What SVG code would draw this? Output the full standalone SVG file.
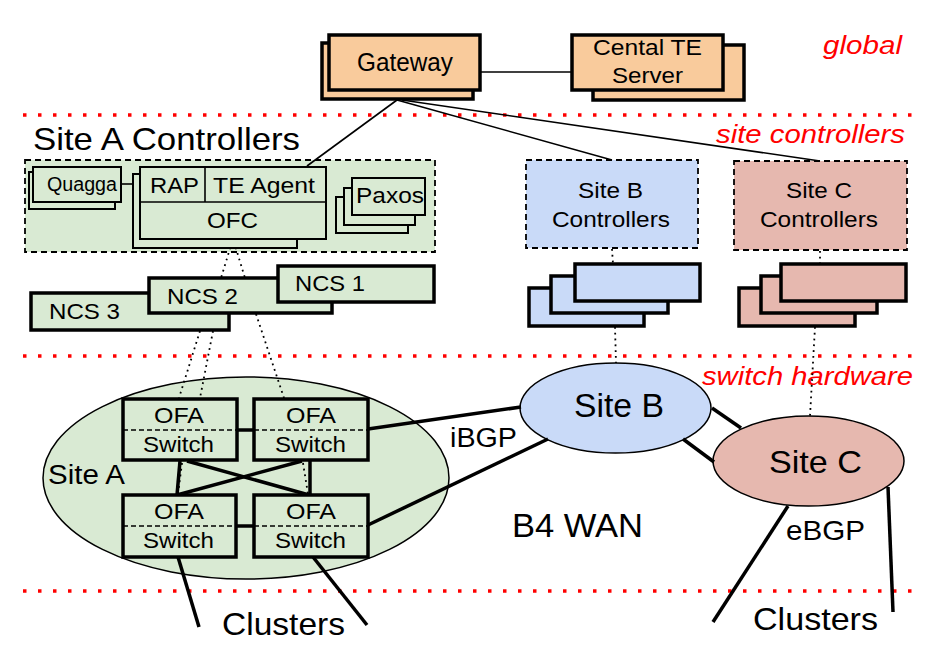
<svg xmlns="http://www.w3.org/2000/svg" width="940" height="666" viewBox="0 0 940 666">
<style>
text{font-family:"Liberation Sans",Arial,sans-serif;fill:#000}
.red{fill:#ff0000;font-style:italic;font-size:25px}
.sep{stroke:#ff0000;stroke-width:3.5;stroke-dasharray:3.5 11.5;fill:none}
.org{fill:#f9cb9c;stroke:#000;stroke-width:3.5}
.grn{fill:#d9ead3;stroke:#000;stroke-width:2}
.grnT{fill:#d9ead3;stroke:#000;stroke-width:3.5}
.blu{fill:#c9daf8;stroke:#000;stroke-width:3.5}
.pnk{fill:#e6b8af;stroke:#000;stroke-width:3.5}
.dash{stroke:#000;stroke-width:1.8;stroke-dasharray:6 4}
.ln{stroke:#000;stroke-width:1.6;fill:none}
.thk{stroke:#000;stroke-width:3.5;fill:none}
.dot{stroke:#000;stroke-width:1.8;stroke-dasharray:1.8 4;fill:none}
.mid{stroke:#000;stroke-width:1.5;stroke-dasharray:5 3;fill:none}
.ell{stroke:#000;stroke-width:1.5}
</style>
<rect width="940" height="666" fill="#fff"/>
<g id="layers">
<line class="sep" x1="23" y1="115" x2="917" y2="115"/>
<line class="sep" x1="23" y1="356" x2="917" y2="356"/>
<line class="sep" x1="23" y1="591" x2="917" y2="591"/>
<text class="red" x="823" y="54" textLength="79" lengthAdjust="spacingAndGlyphs">global</text>
<text class="red" x="716" y="143" textLength="189" lengthAdjust="spacingAndGlyphs">site controllers</text>
<text class="red" x="702" y="385" textLength="211" lengthAdjust="spacingAndGlyphs">switch hardware</text>
<text x="33" y="150" font-size="30.5" textLength="267" lengthAdjust="spacingAndGlyphs">Site A Controllers</text>
</g>
<g id="site-a-controllers">
<rect x="25" y="160" width="410" height="92" fill="#d9ead3" class="dash"/>
</g>
<g id="site-b-controllers">
<rect x="526" y="160" width="172" height="88" fill="#c9daf8" class="dash"/>
<text x="578" y="198" font-size="22.5" textLength="65" lengthAdjust="spacingAndGlyphs">Site B</text>
<text x="552" y="227" font-size="22.5" textLength="118" lengthAdjust="spacingAndGlyphs">Controllers</text>
</g>
<g id="site-c-controllers">
<rect x="734" y="161" width="173" height="89" fill="#e6b8af" class="dash"/>
<text x="786" y="198" font-size="22.5" textLength="66" lengthAdjust="spacingAndGlyphs">Site C</text>
<text x="760" y="227" font-size="22.5" textLength="118" lengthAdjust="spacingAndGlyphs">Controllers</text>
</g>
<g id="site-a">
<ellipse class="ell" cx="246" cy="478" rx="203" ry="101" fill="#d9ead3"/>
<text x="48" y="484" font-size="27" textLength="77" lengthAdjust="spacingAndGlyphs">Site A</text>
</g>
<g id="site-b">
<ellipse class="ell" cx="615.5" cy="408" rx="95.5" ry="45" fill="#c9daf8"/>
<text x="574" y="417" font-size="33" textLength="90" lengthAdjust="spacingAndGlyphs">Site B</text>
</g>
<g id="site-c">
<ellipse class="ell" cx="808.5" cy="461" rx="95.5" ry="45" fill="#e6b8af"/>
<text x="769" y="473" font-size="32" textLength="93" lengthAdjust="spacingAndGlyphs">Site C</text>
</g>
<g id="connectors">
<line class="ln" x1="480" y1="72" x2="572" y2="72"/>
<line class="ln" x1="397" y1="100" x2="307" y2="166"/>
<line class="ln" x1="397" y1="100" x2="612" y2="160"/>
<line class="ln" x1="402" y1="100" x2="820" y2="161"/>
<line class="ln" x1="121" y1="184" x2="133" y2="184"/>
<path class="dot" d="M232 242 L221 278 M234 242 L245 278 M200 331 L179 398 M213 331 L200 398 M256 314 L284 398 M182 463 L178 494 M303 463 L308 494"/>
<path class="dot" d="M612 249 L613 264 M615 327 L616 363 M820 251 L820 264 M815 327 L810 416"/>
<line class="thk" x1="237" y1="430" x2="254" y2="430"/>
<line class="thk" x1="237" y1="526" x2="254" y2="526"/>
<line class="thk" x1="180" y1="461" x2="177" y2="495"/>
<line class="thk" x1="310" y1="461" x2="310" y2="495"/>
<line class="thk" x1="187" y1="461" x2="309" y2="495"/>
<line class="thk" x1="302" y1="461" x2="177" y2="495"/>
<line class="thk" x1="368" y1="429" x2="521" y2="407"/>
<line class="thk" x1="368" y1="525" x2="548" y2="439"/>
<line class="thk" x1="712" y1="408" x2="741" y2="428"/>
<line class="thk" x1="683" y1="439" x2="714" y2="462"/>
<line class="thk" x1="178" y1="557" x2="199" y2="627"/>
<line class="thk" x1="313" y1="557" x2="367" y2="625"/>
<line class="thk" x1="788" y1="506" x2="713" y2="622"/>
<line class="thk" x1="888" y1="487" x2="893" y2="612"/>
</g>
<g id="gateway">
<rect class="org" x="322" y="43" width="151" height="56"/>
<rect class="org" x="329" y="35" width="151" height="55"/>
<text x="357" y="71" font-size="25" textLength="96" lengthAdjust="spacingAndGlyphs">Gateway</text>
</g>
<g id="central-te">
<rect class="org" x="593" y="45" width="151" height="55"/>
<rect class="org" x="572" y="35" width="151" height="55"/>
<text x="593" y="55" font-size="22.5" textLength="109" lengthAdjust="spacingAndGlyphs">Cental TE</text>
<text x="612" y="83" font-size="22.5" textLength="71" lengthAdjust="spacingAndGlyphs">Server</text>
</g>
<g id="quagga">
<rect class="grn" x="29" y="172" width="86" height="37"/>
<rect class="grn" x="33" y="167" width="88" height="35"/>
<text x="47" y="191" font-size="19.5" textLength="70" lengthAdjust="spacingAndGlyphs">Quagga</text>
</g>
<g id="rap-te-ofc">
<rect class="grn" x="133" y="174" width="164" height="74"/>
<rect class="grn" x="140" y="167" width="186" height="72"/>
<line class="ln" x1="140" y1="202" x2="326" y2="202" stroke-width="2"/>
<line class="ln" x1="205" y1="167" x2="205" y2="202" stroke-width="2"/>
<text x="150" y="193" font-size="22.5" textLength="49" lengthAdjust="spacingAndGlyphs">RAP</text>
<text x="213" y="193" font-size="22.5" textLength="102" lengthAdjust="spacingAndGlyphs">TE Agent</text>
<text x="207" y="228" font-size="22.5" textLength="51" lengthAdjust="spacingAndGlyphs">OFC</text>
</g>
<g id="paxos">
<rect class="grn" x="336" y="197" width="72" height="36"/>
<rect class="grn" x="344" y="188" width="71" height="37"/>
<rect class="grn" x="352" y="178" width="73" height="37"/>
<text x="356" y="203" font-size="22.5" textLength="68" lengthAdjust="spacingAndGlyphs">Paxos</text>
</g>
<g id="ncs3">
<rect class="grnT" x="31" y="293" width="198" height="37"/>
<text x="49" y="319" font-size="22.5" textLength="71" lengthAdjust="spacingAndGlyphs">NCS 3</text>
</g>
<g id="ncs2">
<rect class="grnT" x="149" y="278" width="183" height="35"/>
<text x="167" y="304" font-size="22.5" textLength="71" lengthAdjust="spacingAndGlyphs">NCS 2</text>
</g>
<g id="ncs1">
<rect class="grnT" x="278" y="266" width="156" height="36"/>
<text x="295" y="291" font-size="22.5" textLength="70" lengthAdjust="spacingAndGlyphs">NCS 1</text>
</g>
<g id="site-b-switches">
<rect class="blu" x="529" y="288" width="115" height="38"/>
<rect class="blu" x="551" y="276" width="117" height="37"/>
<rect class="blu" x="575" y="264" width="125" height="37"/>
</g>
<g id="site-c-switches">
<rect class="pnk" x="739" y="288" width="116" height="38"/>
<rect class="pnk" x="761" y="276" width="116" height="37"/>
<rect class="pnk" x="781" y="264" width="125" height="37"/>
</g>
<g id="ofa-tl">
<rect class="grnT" x="123" y="399" width="114" height="61"/>
<line class="mid" x1="123" y1="430" x2="237" y2="430"/>
<text x="154" y="423" font-size="22" textLength="50" lengthAdjust="spacingAndGlyphs">OFA</text>
<text x="143" y="452" font-size="22" textLength="71" lengthAdjust="spacingAndGlyphs">Switch</text>
</g>
<g id="ofa-tr">
<rect class="grnT" x="254" y="399" width="114" height="61"/>
<line class="mid" x1="254" y1="430" x2="368" y2="430"/>
<text x="286" y="423" font-size="22" textLength="50" lengthAdjust="spacingAndGlyphs">OFA</text>
<text x="275" y="452" font-size="22" textLength="71" lengthAdjust="spacingAndGlyphs">Switch</text>
</g>
<g id="ofa-bl">
<rect class="grnT" x="123" y="495" width="113" height="62"/>
<line class="mid" x1="123" y1="526" x2="236" y2="526"/>
<text x="154" y="519" font-size="22" textLength="50" lengthAdjust="spacingAndGlyphs">OFA</text>
<text x="143" y="548" font-size="22" textLength="71" lengthAdjust="spacingAndGlyphs">Switch</text>
</g>
<g id="ofa-br">
<rect class="grnT" x="254" y="495" width="114" height="62"/>
<line class="mid" x1="254" y1="526" x2="368" y2="526"/>
<text x="286" y="519" font-size="22" textLength="50" lengthAdjust="spacingAndGlyphs">OFA</text>
<text x="275" y="548" font-size="22" textLength="71" lengthAdjust="spacingAndGlyphs">Switch</text>
</g>
<g id="labels">
<text x="450" y="447" font-size="27" textLength="67" lengthAdjust="spacingAndGlyphs">iBGP</text>
<text x="512" y="537" font-size="33" textLength="131" lengthAdjust="spacingAndGlyphs">B4 WAN</text>
<text x="786" y="540" font-size="28" textLength="79" lengthAdjust="spacingAndGlyphs">eBGP</text>
<text x="222" y="635" font-size="32" textLength="123" lengthAdjust="spacingAndGlyphs">Clusters</text>
<text x="753" y="630" font-size="32" textLength="125" lengthAdjust="spacingAndGlyphs">Clusters</text>
</g>
</svg>
